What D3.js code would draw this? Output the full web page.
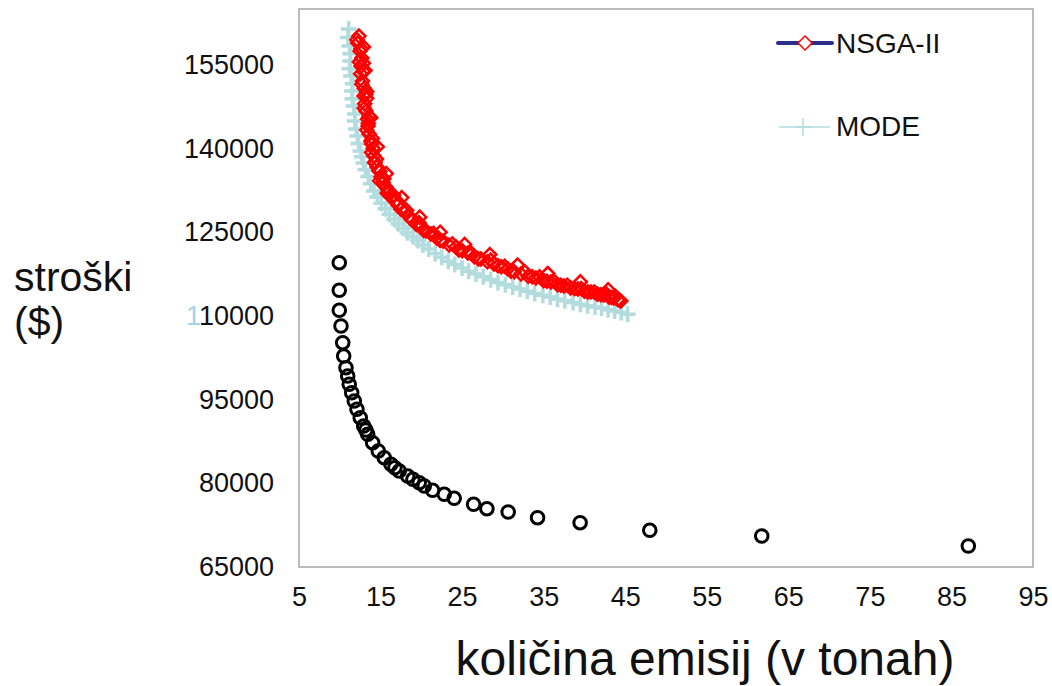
<!DOCTYPE html>
<html>
<head>
<meta charset="utf-8">
<script src="https://cdn.jsdelivr.net/npm/d3@7"></script>
<style>
    body { margin: 0; background: #fff; }
    text { font-family: "Liberation Sans", Arial, sans-serif; fill: #111; }
</style>
</head>
<body>
<div id="chart"></div>
<script>
// x = emissions (tons), y = cost ($)
let xTicks = [5, 15, 25, 35, 45, 55, 65, 75, 85, 95];
let yTicks = [65000, 80000, 95000, 110000, 125000, 140000, 155000];

let nsgaX = [12.35, 12.2, 12.48, 12.7, 12.6, 12.55, 12.78, 13.0, 12.97, 13.05, 13.21, 13.4, 13.46, 13.6, 13.82, 14.1,
    14.19, 14.3, 14.56, 14.9, 15.05, 15.3, 15.66, 16.0, 16.4, 16.8, 17.13, 17.5, 17.99, 18.5, 18.97, 19.4, 19.95,
    20.6, 21.18, 21.9, 22.65, 23.4, 24.24, 25.0, 25.71, 26.5, 27.3, 28.1, 28.9, 29.8, 30.61, 31.4, 32.21, 33.1,
    34.04, 35.0, 35.88, 36.7, 37.48, 38.3, 39.19, 40.0, 40.78, 41.6, 42.38, 43.0, 43.6, 44.1, 44.46,
    12.9, 13.3, 13.8, 14.6, 15.7, 17.6, 19.8, 22.3, 25.3, 28.4, 31.8, 35.5, 39.5, 42.9,
    12.1, 12.6, 12.4, 12.9, 12.7, 13.2, 13.0, 13.6, 13.3, 14.0, 13.9, 14.5, 14.8, 15.4, 15.9, 16.6, 17.3, 18.2,
    18.7, 19.7, 20.3, 21.5, 22.3, 23.8, 24.6, 26.1, 27.0, 28.5, 29.4, 30.2, 31.0, 32.7, 33.6, 34.5, 35.4, 36.3,
    37.1, 37.9, 38.8, 39.6, 40.4, 41.2, 42.0, 42.7, 43.3, 43.8, 44.3,
    12.9, 13.1, 13.3, 13.5, 13.9, 14.3, 14.9, 15.8];
let nsgaY = [160155, 158900, 157467, 156200, 154779, 153400, 152091, 150800, 149403, 148000, 146715, 145300, 144027, 142600, 141339, 140000,
    138651, 137600, 136699, 135900, 134907, 133900, 133115, 132100, 131323, 130500, 129890, 129100, 128635, 127800, 127202, 126400, 125947,
    125200, 124693, 123900, 123438, 122700, 122363, 121700, 121288, 120600, 120213, 119700, 119317, 118800, 118421, 117900, 117525, 117100,
    116808, 116300, 116091, 115600, 115374, 115000, 114837, 114400, 114299, 113900, 113762, 113400, 113224, 112900, 112667,
    155300, 150200, 145500, 140300, 135500, 131200, 127700, 125000, 122800, 121000, 119100, 117600, 116100, 114700,
    159500, 157900, 155500, 153800, 151500, 149700, 147200, 145800, 143300, 141800, 139300, 138100, 136000, 134600, 132600, 131600, 130200, 128900,
    127400, 126700, 125300, 124800, 123500, 122900, 121800, 121300, 120200, 120000, 119000, 118900, 118000, 117900, 117000, 117000, 116200, 116200,
    115500, 115500, 114900, 114900, 114300, 114300, 113800, 113900, 113300, 113500, 112800,
    158200, 154000, 149000, 144500, 140800, 137400, 134200, 132000];

let modeX = [11.1, 11.0, 11.2, 11.3, 11.3, 11.2, 11.4, 11.6, 11.5, 11.55, 11.7, 11.85, 11.85, 12.0, 12.15, 12.3,
    12.55, 12.7, 12.9, 13.15, 13.5, 13.8, 14.2, 14.6, 15.1, 15.6, 16.1, 16.7, 17.2, 17.8, 18.3, 19.0, 19.6,
    20.2, 20.9, 21.7, 22.5, 23.3, 24.1, 25.0, 25.8, 26.7, 27.6, 28.5, 29.4, 30.3, 31.2, 32.1, 33.0, 33.9,
    34.9, 35.8, 36.7, 37.6, 38.6, 39.5, 40.4, 41.3, 42.1, 42.9, 43.7, 44.5, 45.3];
let modeY = [161410, 159900, 158363, 157000, 155675, 154300, 152987, 151600, 150299, 148900, 147611, 146200, 144923, 143500, 142235, 140900,
    139547, 138500, 137397, 136200, 135000, 133700, 132400, 131300, 130200, 129200, 128200, 127300, 126500, 125700, 124900, 124200, 123500,
    122700, 122000, 121200, 120500, 119800, 119200, 118600, 118000, 117500, 117000, 116500, 116000, 115600, 115200, 114800, 114400, 114000,
    113700, 113400, 113000, 112700, 112400, 112100, 111800, 111600, 111400, 111100, 110900, 110600, 110300];

let otherX = [9.94, 9.94, 9.94, 10.15, 10.36, 10.48, 10.76, 10.97, 11.16, 11.46, 11.78, 12.11, 12.51, 12.93, 13.2, 13.42,
    14.03, 14.72, 15.45, 16.27, 16.76, 17.29, 18.32, 18.97, 19.74, 20.36, 21.38, 22.81, 24.03, 26.41, 28.04, 30.65,
    34.25, 39.47, 48.01, 61.74, 87.07];
let otherY = [119530, 114585, 111000, 108190, 105195, 102810, 100715, 99227, 97740, 96235, 94747, 93260, 91755, 90267, 89550, 88780,
    87275, 85787, 84587, 83404, 82800, 82203, 81307, 80716, 80107, 79515, 78745, 78028, 77311, 76236, 75447, 74856,
    73835, 72939, 71577, 70555, 68763];

function drawChart() {
    let svg = d3.select('#chart').append('svg')
        .attr('width', 1052)
        .attr('height', 686);

    let x = d3.scaleLinear().domain([5, 95]).range([299, 1033]);
    let y = d3.scaleLinear().domain([65000, 165000]).range([567, 9]);

    // plot frame
    svg.append('rect')
        .attr('x', x(5))
        .attr('y', y(165000))
        .attr('width', x(95) - x(5))
        .attr('height', y(65000) - y(165000))
        .attr('fill', 'none')
        .attr('stroke', '#a6a6a6')
        .attr('stroke-width', 1.5);

    // axes without lines, labels only
    let xAxis = svg.append('g')
        .attr('transform', 'translate(0,' + 577 + ')')
        .call(d3.axisBottom(x).tickValues(xTicks).tickSize(0).tickPadding(10).tickFormat(d3.format('d')));
    xAxis.select('.domain').remove();
    xAxis.selectAll('text')
        .attr('font-size', 27)
        .attr('font-family', '"Liberation Sans", Arial, sans-serif')
        .attr('fill', '#111');

    let yAxis = svg.append('g')
        .attr('transform', 'translate(' + 274 + ',0)')
        .call(d3.axisLeft(y).tickValues(yTicks).tickSize(0).tickPadding(0).tickFormat(d3.format('d')));
    yAxis.select('.domain').remove();
    yAxis.selectAll('text')
        .attr('font-size', 27)
        .attr('font-family', '"Liberation Sans", Arial, sans-serif')
        .attr('fill', '#111');
    // the first "1" of 110000 is hidden behind a light blue mark in the original
    yAxis.selectAll('text').filter(d => d === 110000)
        .text(null)
        .call(t => {
            t.append('tspan').attr('fill', '#9fd3ea').text('1');
            t.append('tspan').text('10000');
        });

    let pts = (xs, ys) => xs.map((v, i) => ({x: v, y: ys[i]}));

    // MODE: light blue crosses
    svg.append('g').selectAll('path')
        .data(pts(modeX, modeY))
        .join('path')
        .attr('d', 'M-8,0H8M0,-8V8')
        .attr('transform', d => 'translate(' + x(d.x) + ',' + y(d.y) + ')')
        .attr('stroke', '#b3dcdf')
        .attr('stroke-width', 3.5);

    // NSGA-II: red hollow diamonds
    svg.append('g').selectAll('path')
        .data(pts(nsgaX, nsgaY))
        .join('path')
        .attr('d', 'M0,-6.5L6.5,0L0,6.5L-6.5,0Z')
        .attr('transform', d => 'translate(' + x(d.x) + ',' + y(d.y) + ')')
        .attr('fill', 'none')
        .attr('stroke', '#ff0000')
        .attr('stroke-width', 2.5);

    // third series: black circles
    svg.append('g').selectAll('circle')
        .data(pts(otherX, otherY))
        .join('circle')
        .attr('cx', d => x(d.x))
        .attr('cy', d => y(d.y))
        .attr('r', 6.3)
        .attr('fill', 'none')
        .attr('stroke', '#000')
        .attr('stroke-width', 3);

    // legend
    svg.append('line')
        .attr('x1', 778).attr('x2', 832)
        .attr('y1', 43).attr('y2', 43)
        .attr('stroke', '#2b2f8c')
        .attr('stroke-width', 4)
        .attr('stroke-linecap', 'round');
    svg.append('path')
        .attr('d', 'M0,-7L7,0L0,7L-7,0Z')
        .attr('transform', 'translate(805,43)')
        .attr('fill', '#fff')
        .attr('stroke', '#ff0000')
        .attr('stroke-width', 1.5);
    svg.append('text')
        .attr('x', 836).attr('y', 53)
        .attr('font-size', 28)
        .text('NSGA-II');

    svg.append('line')
        .attr('x1', 779).attr('x2', 830)
        .attr('y1', 127).attr('y2', 127)
        .attr('stroke', '#b3dcdf')
        .attr('stroke-width', 1.5);
    svg.append('path')
        .attr('d', 'M-8,0H8M0,-9V9')
        .attr('transform', 'translate(803,127)')
        .attr('stroke', '#b3dcdf')
        .attr('stroke-width', 1.5);
    svg.append('text')
        .attr('x', 836).attr('y', 136)
        .attr('font-size', 28)
        .text('MODE');

    // axis titles
    svg.append('text')
        .attr('x', 705).attr('y', 675)
        .attr('text-anchor', 'middle')
        .attr('font-size', 48)
        .text('količina emisij (v tonah)');

    svg.append('text')
        .attr('x', 14).attr('y', 291)
        .attr('font-size', 41)
        .text('stroški');
    svg.append('text')
        .attr('x', 14).attr('y', 336)
        .attr('font-size', 41)
        .text('($)');
}

drawChart();
</script>
</body>
</html>
